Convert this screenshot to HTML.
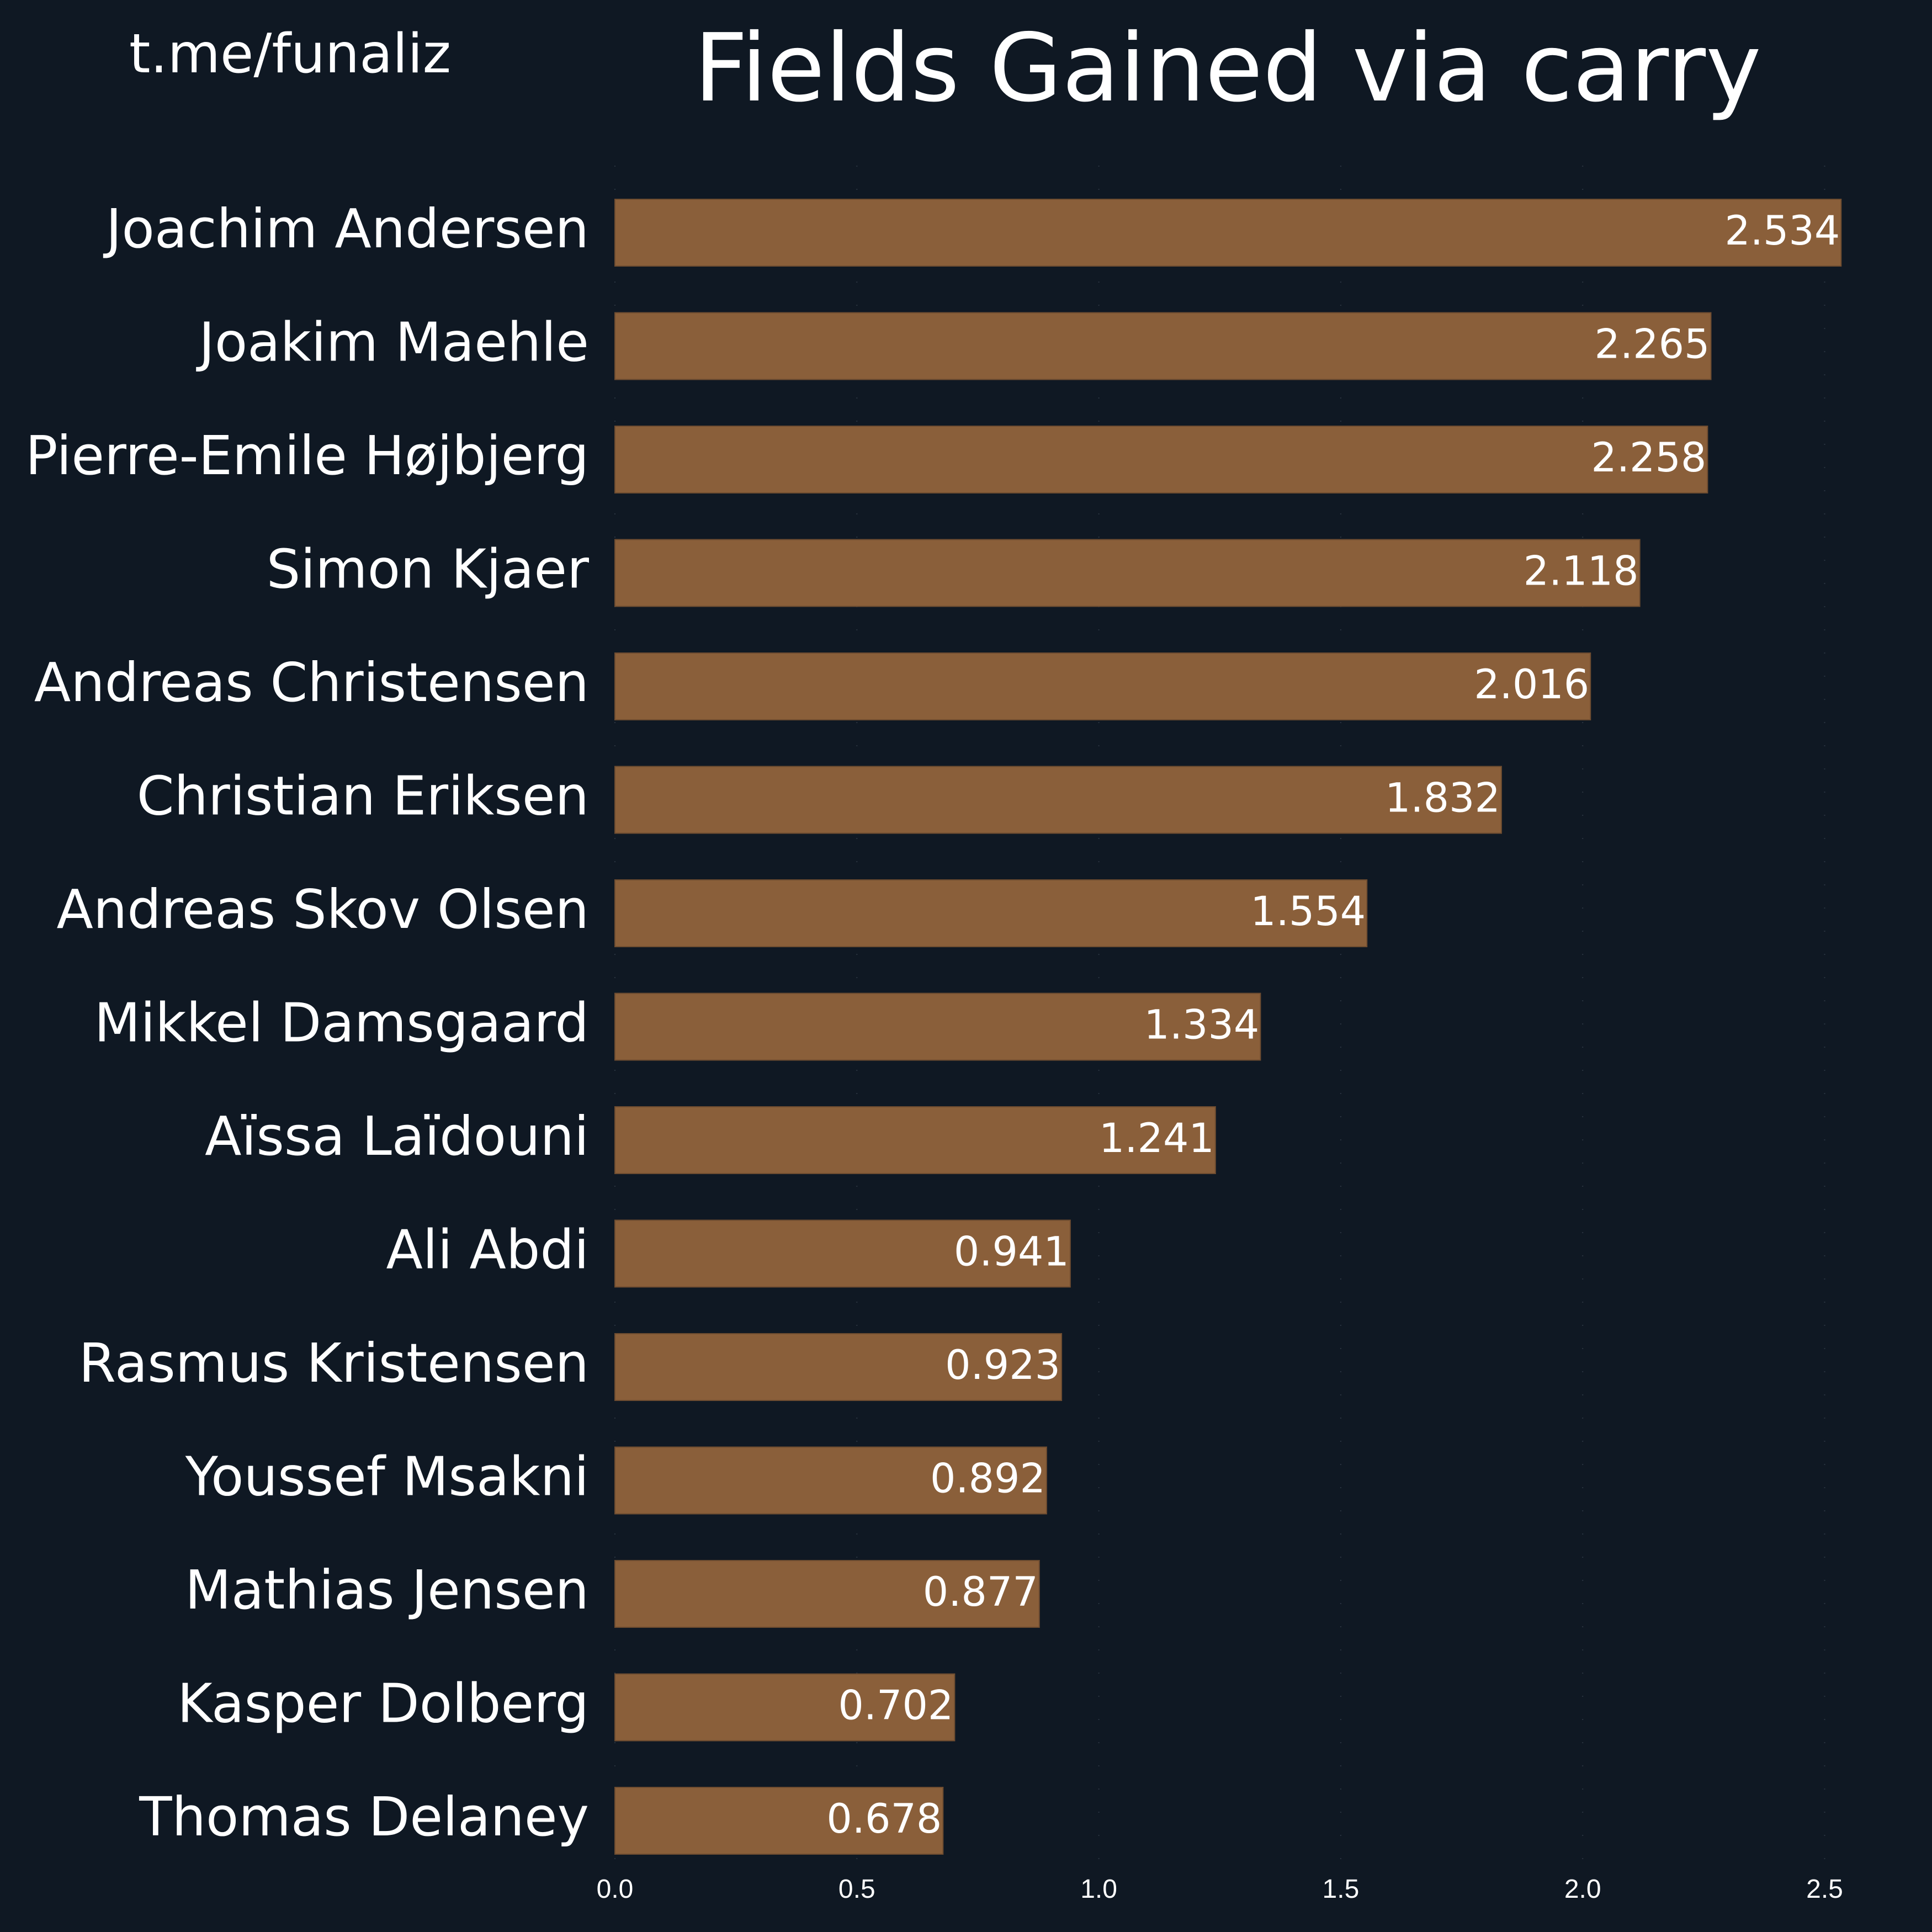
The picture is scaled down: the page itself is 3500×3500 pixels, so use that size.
<!DOCTYPE html>
<html><head><meta charset="utf-8"><style>
html,body{margin:0;padding:0;background:#0f1823;}
svg{display:block}
</style></head><body>
<svg id="chart" width="3500" height="3500" viewBox="0 0 3500 3500" xmlns="http://www.w3.org/2000/svg">
<rect width="3500" height="3500" fill="#0f1823"/>
<text x="234" y="131" font-family="DejaVu Sans, sans-serif" font-size="98" fill="#ffffff">t.me/funaliz</text>
<text x="2224" y="182" text-anchor="middle" font-family="DejaVu Sans, sans-serif" font-size="170" fill="#ffffff">Fields Gained via carry</text>
<g id="grid"></g><g id="bars"></g><g id="xaxis"></g>
</svg>
<script>
const categories = ["Joachim Andersen","Joakim Maehle","Pierre-Emile Højbjerg","Simon Kjaer","Andreas Christensen","Christian Eriksen","Andreas Skov Olsen","Mikkel Damsgaard","Aïssa Laïdouni","Ali Abdi","Rasmus Kristensen","Youssef Msakni","Mathias Jensen","Kasper Dolberg","Thomas Delaney"];
const values = [2.534,2.265,2.258,2.118,2.016,1.832,1.554,1.334,1.241,0.941,0.923,0.892,0.877,0.702,0.678];
const ticks = [0,0.5,1.0,1.5,2.0,2.5];
const tickLabels = ["0.0","0.5","1.0","1.5","2.0","2.5"];
const NS="http://www.w3.org/2000/svg";
const x0=1114, unit=876.6;
function xs(v){return x0+v*unit;}
const top0=361, step=205.5, bh=121;
function ys(i){return top0+i*step;}
function mk(t,a,p){const e=document.createElementNS(NS,t);for(const k in a)e.setAttribute(k,a[k]);p.appendChild(e);return e;}
const grid=document.getElementById('grid'),bars=document.getElementById('bars'),xa=document.getElementById('xaxis');
ticks.forEach((t,i)=>{
  const l=mk('line',{x1:xs(t),x2:xs(t),y1:300,y2:3370,stroke:'#2a3440','stroke-width':2,'stroke-dasharray':'2 40'},grid);
  
  
  const tx=mk('text',{x:xs(t),y:3438,'text-anchor':'middle','font-family':'Liberation Sans, sans-serif','font-size':48,fill:'#ffffff'},xa);
  tx.textContent=tickLabels[i];
  
  
});
categories.forEach((c,i)=>{
  const y=ys(i);
  const r=mk('rect',{x:x0,y:y,width:xs(values[i])-x0,height:bh,fill:'#8a5f3a',stroke:'#6e4c30','stroke-width':2},bars);
  
  
  const lb=mk('text',{x:1067,y:y+87,'text-anchor':'end','font-family':'DejaVu Sans, sans-serif','font-size':97,fill:'#ffffff'},bars);
  lb.textContent=c;
  
  
  const vl=mk('text',{x:xs(values[i])-2,y:y+82,'text-anchor':'end','font-family':'DejaVu Sans, sans-serif','font-size':73,fill:'#ffffff'},bars);
  vl.textContent=values[i].toFixed(3);
  
  
});
</script>
</body></html>
